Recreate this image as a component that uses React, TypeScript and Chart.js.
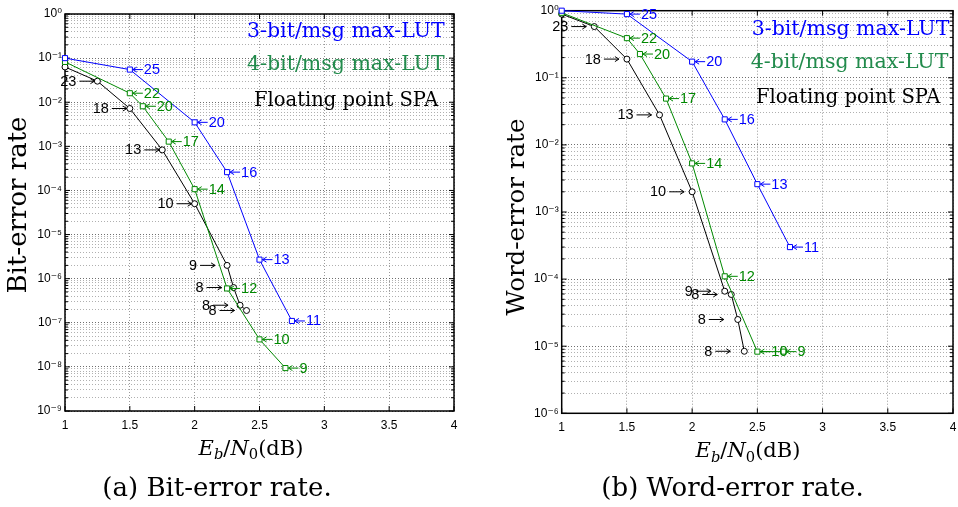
import React, { useEffect, useRef } from 'react';
import { Chart, registerables } from 'chart.js';

Chart.register(...registerables);

// ---------------- (a) Bit-error rate ----------------
const berBlueX = [1, 1.5, 2, 2.25, 2.5, 2.75];
const berBlueY = [0.1, 0.055, 3.5e-3, 2.6e-4, 2.7e-6, 1.1e-7];
const berBlueIter = ['', '25', '20', '16', '13', '11'];

const berGreenX = [1, 1.5, 1.6, 1.8, 2, 2.25, 2.5, 2.7];
const berGreenY = [0.082, 0.016, 8.1e-3, 1.28e-3, 1.07e-4, 6e-7, 4.2e-8, 9.4e-9];
const berGreenIter = ['', '22', '20', '17', '14', '12', '10', '9'];

const berBlackX = [1, 1.25, 1.5, 1.75, 2, 2.25, 2.3, 2.35, 2.4];
const berBlackY = [0.063, 0.03, 7.2e-3, 8.3e-4, 5e-5, 2e-6, 6.3e-7, 2.5e-7, 1.9e-7];
const berBlackIter = ['', '23', '18', '13', '10', '9', '8', '8', '8'];

// ---------------- (b) Word-error rate ----------------
const werBlueX = [1, 1.5, 2, 2.25, 2.5, 2.75];
const werBlueY = [1.0, 0.89, 0.174, 0.024, 2.6e-3, 3e-4];
const werBlueIter = ['', '25', '20', '16', '13', '11'];

const werGreenX = [1, 1.5, 1.6, 1.8, 2, 2.25, 2.5, 2.7];
const werGreenY = [0.93, 0.39, 0.226, 0.049, 5.3e-3, 1.1e-4, 8.3e-6, 8.3e-6];
const werGreenIter = ['', '22', '20', '17', '14', '12', '10', '9'];

const werBlackX = [1, 1.25, 1.5, 1.75, 2, 2.25, 2.3, 2.35, 2.4];
const werBlackY = [0.89, 0.58, 0.19, 0.028, 2e-3, 6.6e-5, 5.9e-5, 2.5e-5, 8.4e-6];
const werBlackIter = ['', '23', '18', '13', '10', '9', '8', '8', '8'];

// ---------------- Axis / text ----------------
const xTickValues = [1, 1.5, 2, 2.5, 3, 3.5, 4];
const seriesNames = ['3-bit/msg max-LUT', '4-bit/msg max-LUT', 'Floating point SPA'];
const yTitles = ['Bit-error rate', 'Word-error rate'];
const captions = ['(a) Bit-error rate.', '(b) Word-error rate.'];

// ---------------- Styles ----------------
const BLUE = '#0000ff';
const GREEN = '#008800';
const LEGEND_GREEN = '#228b4c';
const BLACK = '#000000';
const SERIF = '"DejaVu Serif", serif';
const SANS = '"Liberation Sans", "DejaVu Sans", Arial, sans-serif';

const SUP: Record<string, string> = {
  '-': '\u207B', '0': '\u2070', '1': '\u00B9', '2': '\u00B2', '3': '\u00B3',
  '4': '\u2074', '5': '\u2075', '6': '\u2076', '7': '\u2077', '8': '\u2078', '9': '\u2079',
};
const sup = (s: string) => s.split('').map((c) => SUP[c] || c).join('');

const toPts = (xs: number[], ys: number[]) => xs.map((x, i) => ({ x, y: ys[i] }));

function drawArrow(ctx: CanvasRenderingContext2D, tail: number, tip: number, y: number) {
  const d = tip > tail ? -1 : 1;
  ctx.beginPath();
  ctx.moveTo(tail, y);
  ctx.lineTo(tip, y);
  ctx.moveTo(tip + d * 4, y - 2.5);
  ctx.lineTo(tip, y);
  ctx.lineTo(tip + d * 4, y + 2.5);
  ctx.stroke();
}

function isPow10(v: number) {
  const l = Math.log10(v);
  return Math.abs(l - Math.round(l)) < 1e-9;
}

const framePlugin = {
  id: 'frame',
  beforeDatasetsDraw(chart: any) {
    const { ctx, chartArea: a, scales } = chart;
    ctx.save();
    ctx.strokeStyle = '#000';
    ctx.lineWidth = 1.5;
    ctx.strokeRect(a.left, a.top, a.right - a.left, a.bottom - a.top);
    ctx.lineWidth = 1;
    ctx.beginPath();
    xTickValues.forEach((v) => {
      const px = scales.x.getPixelForValue(v);
      ctx.moveTo(px, a.bottom);
      ctx.lineTo(px, a.bottom - 5);
      ctx.moveTo(px, a.top);
      ctx.lineTo(px, a.top + 5);
    });
    scales.y.ticks.forEach((t: any) => {
      const py = scales.y.getPixelForValue(t.value);
      const len = isPow10(t.value) ? 5 : 3;
      ctx.moveTo(a.left, py);
      ctx.lineTo(a.left + len, py);
      ctx.moveTo(a.right, py);
      ctx.lineTo(a.right - len, py);
    });
    ctx.stroke();
    ctx.restore();
  },
};

const annotationPlugin = {
  id: 'iterAnnotations',
  afterDatasetsDraw(chart: any, _args: any, opts: any) {
    const ctx: CanvasRenderingContext2D = chart.ctx;
    ctx.save();
    ctx.font = `14.5px ${SANS}`;
    ctx.textBaseline = 'middle';
    ctx.lineWidth = 1;
    chart.data.datasets.forEach((ds: any, i: number) => {
      const meta = chart.getDatasetMeta(i);
      ctx.strokeStyle = ds.borderColor;
      ctx.fillStyle = ds.borderColor;
      meta.data.forEach((el: any, j: number) => {
        const label = ds.iterLabels[j];
        if (!label) return;
        const px = el.x;
        const py = el.y;
        if (ds.labelSide === 'left') {
          const gap = ds.data[j].x < 2.2 ? opts.gapNear : opts.gapFar;
          const tip = px - gap;
          const tail = tip - 15;
          drawArrow(ctx, tail, tip, py);
          ctx.textAlign = 'right';
          ctx.fillText(label, tail - 3, py + 0.5);
        } else {
          drawArrow(ctx, px + 13, px + 3, py);
          ctx.textAlign = 'left';
          ctx.fillText(label, px + 14, py + 0.5);
        }
      });
    });
    ctx.restore();
  },
};

const textPlugin = {
  id: 'panelText',
  afterDraw(chart: any, _args: any, opts: any) {
    const ctx: CanvasRenderingContext2D = chart.ctx;
    const a = chart.chartArea;
    ctx.save();
    // legend text (clipped to the plot frame)
    ctx.save();
    ctx.beginPath();
    ctx.rect(a.left, a.top, a.right - a.left + 1, a.bottom - a.top);
    ctx.clip();
    ctx.textAlign = 'left';
    ctx.textBaseline = 'alphabetic';
    opts.legend.forEach((l: any, i: number) => {
      ctx.font = `${l.size}px ${SERIF}`;
      ctx.fillStyle = l.color;
      ctx.fillText(seriesNames[i], l.x, l.y);
    });
    ctx.restore();

    // y title
    ctx.save();
    ctx.translate(opts.yTitle.x, opts.yTitle.y);
    ctx.rotate(-Math.PI / 2);
    ctx.font = `${opts.yTitle.size}px ${SERIF}`;
    ctx.fillStyle = '#000';
    ctx.textAlign = 'center';
    ctx.textBaseline = 'middle';
    ctx.fillText(opts.yTitle.text, 0, 0);
    ctx.restore();

    // x title: E_b/N_0(dB)
    const s = opts.xTitle.size;
    const parts = [
      { t: 'E', f: `italic ${s}px ${SERIF}`, dy: 0 },
      { t: 'b', f: `italic ${s * 0.7}px ${SERIF}`, dy: s * 0.22 },
      { t: '/', f: `${s}px ${SERIF}`, dy: 0 },
      { t: 'N', f: `italic ${s}px ${SERIF}`, dy: 0 },
      { t: '0', f: `${s * 0.7}px ${SERIF}`, dy: s * 0.22 },
      { t: '(dB)', f: `${s}px ${SERIF}`, dy: 0 },
    ];
    let total = 0;
    const widths = parts.map((p) => {
      ctx.font = p.f;
      const w = ctx.measureText(p.t).width;
      total += w;
      return w;
    });
    let cx = opts.xTitle.x - total / 2;
    ctx.fillStyle = '#000';
    ctx.textAlign = 'left';
    ctx.textBaseline = 'alphabetic';
    parts.forEach((p, i) => {
      ctx.font = p.f;
      ctx.fillText(p.t, cx, opts.xTitle.y + p.dy);
      cx += widths[i];
    });

    // caption
    ctx.font = `${opts.caption.size}px ${SERIF}`;
    ctx.textAlign = 'center';
    ctx.fillText(opts.caption.text, opts.caption.x, opts.caption.y);
    ctx.restore();
  },
};

function makeDatasets(bx: number[], by: number[], bl: string[], gx: number[], gy: number[], gl: string[], kx: number[], ky: number[], kl: string[]) {
  const common = { borderWidth: 1, pointBorderWidth: 1, pointBackgroundColor: '#ffffff', clip: false as any, tension: 0 };
  return [
    { ...common, label: seriesNames[0], data: toPts(bx, by), borderColor: BLUE, pointBorderColor: BLUE, pointStyle: 'rect', pointRadius: 3.6, iterLabels: bl, labelSide: 'right' },
    { ...common, label: seriesNames[1], data: toPts(gx, gy), borderColor: GREEN, pointBorderColor: GREEN, pointStyle: 'rect', pointRadius: 3.6, iterLabels: gl, labelSide: 'right' },
    { ...common, label: seriesNames[2], data: toPts(kx, ky), borderColor: BLACK, pointBorderColor: BLACK, pointStyle: 'circle', pointRadius: 3, iterLabels: kl, labelSide: 'left' },
  ];
}

function makeConfig(p: any) {
  return {
    type: 'line',
    data: { datasets: p.datasets },
    plugins: [framePlugin, annotationPlugin, textPlugin],
    options: {
      responsive: false,
      animation: false,
      events: [],
      devicePixelRatio: 1,
      layout: { padding: p.padding },
      scales: {
        x: {
          type: 'linear',
          min: 1,
          max: 4,
          afterBuildTicks: (s: any) => { s.ticks = xTickValues.map((v) => ({ value: v })); },
          afterFit: (s: any) => {
            s.height = p.xHeight;
            s.paddingLeft = 0; s.paddingRight = 0; s.paddingTop = 0; s.paddingBottom = 0;
          },
          ticks: {
            autoSkip: false,
            maxRotation: 0,
            padding: 7,
            color: '#000',
            font: { family: SANS, size: 12 },
            callback: (v: any) => String(v),
          },
          grid: { drawTicks: false, color: '#9a9a9a', lineWidth: 1 },
          border: { display: false, dash: [1, 2] },
        },
        y: {
          type: 'logarithmic',
          min: p.yMin,
          max: 1,
          afterBuildTicks: (s: any) => {
            const ticks: any[] = [];
            const e0 = Math.round(Math.log10(p.yMin));
            for (let e = e0; e < 0; e++) {
              for (let m = 1; m <= 9; m++) ticks.push({ value: m * Math.pow(10, e) });
            }
            ticks.push({ value: 1 });
            s.ticks = ticks;
          },
          afterFit: (s: any) => {
            s.width = p.yWidth;
            s.paddingLeft = 0; s.paddingRight = 0; s.paddingTop = 0; s.paddingBottom = 0;
          },
          ticks: {
            autoSkip: false,
            padding: 3,
            color: '#000',
            font: { family: SANS, size: 12 },
            callback: (v: any) => {
              if (!isPow10(v)) return '';
              return '10' + sup(String(Math.round(Math.log10(v))));
            },
          },
          grid: {
            drawTicks: false,
            lineWidth: 1,
            color: (c: any) => (c.tick && isPow10(c.tick.value) ? '#6e6e6e' : '#b0b0b0'),
          },
          border: { display: false, dash: [1, 2] },
        },
      },
      plugins: {
        legend: { display: false },
        tooltip: { enabled: false },
        iterAnnotations: p.annot,
        panelText: p.text,
      },
    },
  };
}

const panelA = {
  datasets: makeDatasets(berBlueX, berBlueY, berBlueIter, berGreenX, berGreenY, berGreenIter, berBlackX, berBlackY, berBlackIter),
  yMin: 1e-9,
  padding: { left: 0, right: 25, top: 14, bottom: 0 },
  yWidth: 65,
  xHeight: 96,
  annot: { gapNear: 3, gapFar: 12 },
  text: {
    legend: [
      { color: BLUE, x: 247, y: 37, size: 20.5 },
      { color: LEGEND_GREEN, x: 247, y: 70, size: 20.5 },
      { color: BLACK, x: 254, y: 106, size: 19.5 },
    ],
    yTitle: { text: yTitles[0], x: 19, y: 205, size: 26 },
    xTitle: { x: 251, y: 454.5, size: 21 },
    caption: { text: captions[0], x: 217, y: 495.5, size: 26 },
  },
};

const panelB = {
  datasets: makeDatasets(werBlueX, werBlueY, werBlueIter, werGreenX, werGreenY, werGreenIter, werBlackX, werBlackY, werBlackIter),
  yMin: 1e-6,
  padding: { left: 0, right: 4.7, top: 10.7, bottom: 0 },
  yWidth: 82.7,
  xHeight: 93.7,
  annot: { gapNear: 8, gapFar: 14 },
  text: {
    legend: [
      { color: BLUE, x: 272.7, y: 35, size: 20.5 },
      { color: LEGEND_GREEN, x: 271.7, y: 68, size: 20.5 },
      { color: BLACK, x: 277, y: 103, size: 19.5 },
    ],
    yTitle: { text: yTitles[1], x: 39, y: 217, size: 24.5 },
    xTitle: { x: 269, y: 457, size: 21 },
    caption: { text: captions[1], x: 253.5, y: 496, size: 26 },
  },
};

function Panel({ cfg, left }: { cfg: any; left: number }) {
  const ref = useRef<HTMLCanvasElement | null>(null);
  useEffect(() => {
    if (!ref.current) return;
    const chart = new Chart(ref.current, makeConfig(cfg) as any);
    return () => chart.destroy();
  }, [cfg]);
  return (
    <canvas
      ref={ref}
      width={479}
      height={507}
      style={{ position: 'absolute', left, top: 0, width: 479, height: 507 }}
    />
  );
}

export default function App() {
  return (
    <div style={{ position: 'fixed', left: 0, top: 0, width: 958, height: 507, background: '#fff', overflow: 'hidden' }}>
      <Panel cfg={panelA} left={0} />
      <Panel cfg={panelB} left={479} />
    </div>
  );
}
